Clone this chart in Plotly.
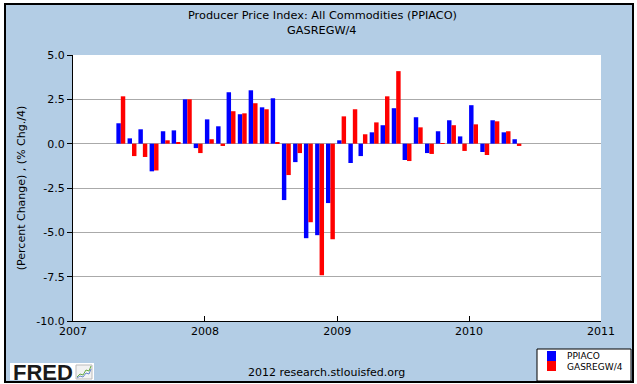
import pandas as pd
import plotly.graph_objects as go

# ---- data ----
months = list(pd.date_range("2007-05-01", periods=37, freq="MS").strftime("%Y-%m-%d"))
ppiaco = [1.15, 0.30, 0.81, -1.56, 0.70, 0.75, 2.50, -0.25,
          1.37, 0.98, 2.90, 1.66, 3.01, 2.05, 2.56, -3.18, -1.04, -5.33, -5.16, -3.35,
          0.19, -1.09, -0.70, 0.64, 1.04, 2.00, -0.92, 1.49, -0.53, 0.70, 1.32, 0.41,
          2.17, -0.47, 1.32, 0.64, 0.25]
gasregw4 = [2.67, -0.70, -0.75, -1.51, 0.19, 0.04, 2.50, -0.53,
            0.25, -0.13, 1.83, 1.71, 2.28, 1.94, 0.08, -1.77, -0.53, -4.43, -7.42, -5.39,
            1.54, 1.94, 0.53, 1.20, 2.67, 4.09, -0.98, 0.92, -0.58, 0.03, 1.04, -0.41,
            1.09, -0.64, 1.26, 0.70, -0.13]
y_tick_vals = [5.0, 2.5, 0.0, -2.5, -5.0, -7.5, -10.0]
y_tick_text = ["5.0", "2.5", "0.0", "-2.5", "-5.0", "-7.5", "-10.0"]
series_names = ["PPIACO", "GASREGW/4"]
series_colors = ["#0000FF", "#FF0000"]
title_lines = ["Producer Price Index: All Commodities (PPIACO)", "GASREGW/4"]

# ---- geometry helpers (pixel -> paper) ----
W, H = 637, 384
L, R, T, B = 73, 36, 55, 63
PW, PH = W - L - R, H - T - B

def px(p):
    return (p - L) / PW

def py(p):
    return (H - B - p) / PH

DAY = 86400000
bar_w = 12.3 * DAY

fig = go.Figure()
for i, (name, vals) in enumerate(zip(series_names, [ppiaco, gasregw4])):
    fig.add_trace(go.Bar(
        x=months, y=vals, name=name,
        marker=dict(color=series_colors[i], line=dict(width=0)),
        width=[bar_w] * len(months),
        offset=[i * bar_w] * len(months),
        showlegend=False, hoverinfo="skip",
    ))

font = "DejaVu Sans"
shapes = [
    # outer panel
    dict(type="rect", xref="paper", yref="paper", x0=px(5), x1=px(633), y0=py(382), y1=py(4),
         fillcolor="#B3CDE5", line=dict(color="black", width=2), layer="below"),
    # plot area
    dict(type="rect", xref="paper", yref="paper", x0=0, x1=1, y0=0, y1=1,
         fillcolor="white", line=dict(width=0), layer="below"),
    # legend box
    dict(type="rect", xref="paper", yref="paper", x0=px(537), x1=px(631), y0=py(381), y1=py(349),
         fillcolor="white", line=dict(color="black", width=1)),
    dict(type="rect", xref="paper", yref="paper", x0=px(547), x1=px(556), y0=py(361), y1=py(351),
         fillcolor=series_colors[0], line=dict(width=0)),
    dict(type="rect", xref="paper", yref="paper", x0=px(547), x1=px(556), y0=py(371), y1=py(361),
         fillcolor=series_colors[1], line=dict(width=0)),
    # FRED logo box
    dict(type="rect", xref="paper", yref="paper", x0=px(10), x1=px(94), y0=py(380), y1=py(363),
         fillcolor="white", line=dict(width=0)),
    dict(type="rect", xref="paper", yref="paper", x0=px(76), x1=px(92), y0=py(379), y1=py(365),
         fillcolor="#F2F2F2", line=dict(color="#BBBBBB", width=1)),
]
# small logo chart lines
def path(points):
    return "M" + " L".join(f"{px(a)},{py(b)}" for a, b in points)
shapes.append(dict(type="path", xref="paper", yref="paper",
                   path=path([(77, 377), (80, 374), (83, 375), (86, 370), (89, 371), (91, 366)]),
                   line=dict(color="#66AA44", width=1)))
shapes.append(dict(type="path", xref="paper", yref="paper",
                   path=path([(77, 378), (80, 376), (83, 377), (86, 373), (89, 374), (91, 369)]),
                   line=dict(color="#6688CC", width=1)))

annotations = [
    dict(text=title_lines[0], x=px(322), y=py(15), xref="paper", yref="paper",
         xanchor="center", yanchor="middle", showarrow=False, font=dict(family=font, size=11.3, color="black")),
    dict(text=title_lines[1], x=px(322), y=py(30), xref="paper", yref="paper",
         xanchor="center", yanchor="middle", showarrow=False, font=dict(family=font, size=11.3, color="black")),
    dict(text=series_names[0], x=px(565), y=py(356), xref="paper", yref="paper",
         xanchor="left", yanchor="middle", showarrow=False, font=dict(family=font, size=9, color="black")),
    dict(text=series_names[1], x=px(565), y=py(367), xref="paper", yref="paper",
         xanchor="left", yanchor="middle", showarrow=False, font=dict(family=font, size=9, color="black")),
    dict(text="2012 research.stlouisfed.org", x=px(326), y=py(372), xref="paper", yref="paper",
         xanchor="center", yanchor="middle", showarrow=False, font=dict(family=font, size=11, color="black")),
    dict(text="<b>FRED</b>", x=px(11), y=py(372), xref="paper", yref="paper",
         xanchor="left", yanchor="middle", showarrow=False,
         font=dict(family="Liberation Sans", size=22, color="#1A1A1A")),
]

fig.update_layout(
    width=W, height=H,
    margin=dict(l=L, r=R, t=T, b=B, pad=0),
    paper_bgcolor="white",
    plot_bgcolor="white",
    barmode="overlay",
    showlegend=False,
    font=dict(family=font, size=11, color="black"),
    xaxis=dict(type="date", range=["2007-01-01", "2011-01-01"],
               tick0="2007-01-01", dtick="M12", tickformat="%Y",
               showgrid=False, zeroline=False,
               showline=True, linecolor="black", linewidth=1,
               ticks="inside", ticklen=5, tickcolor="black",
               tickfont=dict(family=font, size=11, color="black")),
    yaxis=dict(range=[-10, 5], tickmode="array", tickvals=y_tick_vals, ticktext=y_tick_text,
               showgrid=True, gridcolor="#AAAAAA", gridwidth=1,
               zeroline=True, zerolinecolor="#AAAAAA", zerolinewidth=1,
               showline=True, linecolor="black", linewidth=1,
               ticks="outside", ticklen=5, tickcolor="black",
               tickfont=dict(family=font, size=11, color="black"),
               title=dict(text="(Percent Change) , (% Chg./4)", standoff=8,
                          font=dict(family=font, size=11, color="black"))),
    shapes=shapes,
    annotations=annotations,
)

fig.write_html("out.html", config={"displayModeBar": False},
               post_script="document.body.style.margin='0';document.body.style.overflow='hidden';")
